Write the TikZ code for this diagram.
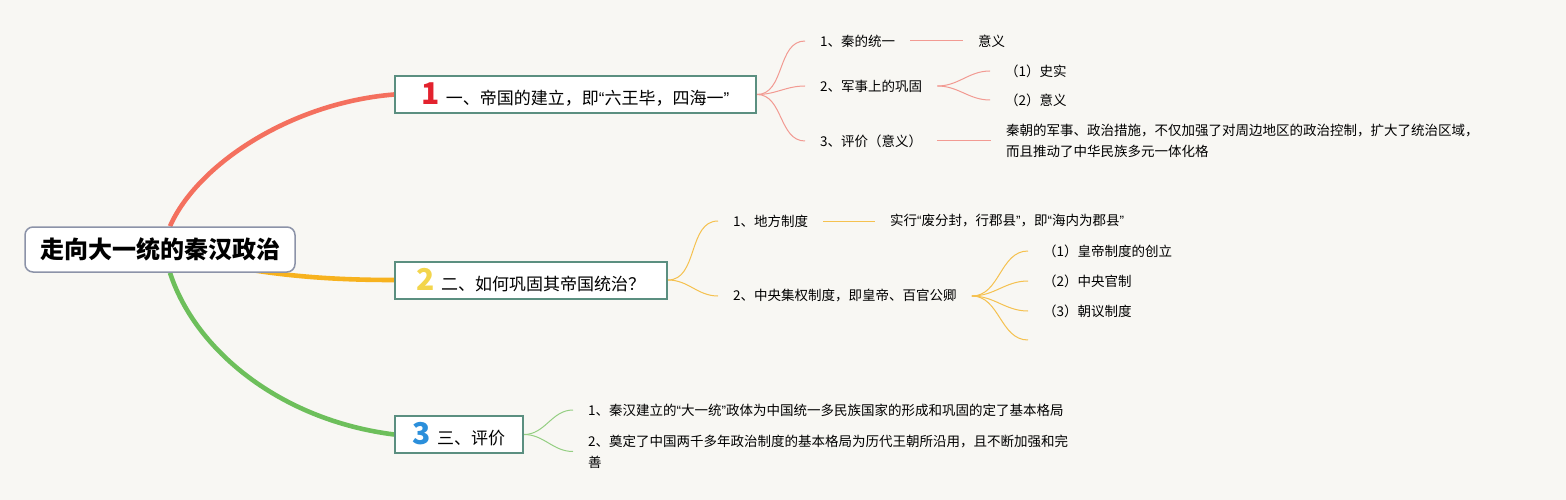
\documentclass[tikz,border=0pt]{standalone}
\usepackage{fontspec}
\setmainfont{Noto Sans CJK SC}
\newfontfamily\latino{Liberation Sans}
\usetikzlibrary{backgrounds}

\newcommand\numero[2]{{\color{#1}\fontsize{30}{30}\selectfont\bfseries #2}\hspace{6pt}}
\newcommand\virg[1]{{\latino “}#1{\latino ”}}

\tikzset{
  radice/.style={draw=colRadice, fill=white, line width=1.5pt, rounded corners=8pt,
    minimum width=270pt, minimum height=45pt, font=\fontsize{24}{28}\selectfont\bfseries},
  ramo/.style={draw=colBordo, fill=white, line width=2pt, minimum height=37pt,
    inner xsep=0pt, inner ysep=0pt, font=\fontsize{17}{20}\selectfont},
  foglia/.style={anchor=west, inner xsep=15pt, inner ysep=2pt, align=left,
    font=\fontsize{13.5}{21}\selectfont},
  grosso/.style={line width=4.6pt},
  sottile/.style={line width=1pt},
}

\begin{document}
\begin{tikzpicture}[x=1pt, y=-1pt]

% Colori
\definecolor{colSfondo}{HTML}{F8F7F3}
\definecolor{colRadice}{HTML}{8C93A8}
\definecolor{colBordo}{HTML}{5B8F80}
\definecolor{colRossoG}{HTML}{F4705E}
\definecolor{colRossoS}{HTML}{F29A92}
\definecolor{colArancioG}{HTML}{F7B21E}
\definecolor{colArancioS}{HTML}{F5C14F}
\definecolor{colVerdeG}{HTML}{6DBF5B}
\definecolor{colVerdeS}{HTML}{95CF83}
\definecolor{numRosso}{HTML}{E3222E}
\definecolor{numGiallo}{HTML}{F3D54C}
\definecolor{numBlu}{HTML}{2B8FDB}

\useasboundingbox (0,0) rectangle (1566,500);

% Nodo centrale
\node[radice] (radice) at (160,249.5) {走向大一统的秦汉政治};

% Rami principali
\node[ramo, minimum width=361pt] (r1) at (575.5,94.5)
  {\numero{numRosso}{1}一、帝国的建立，即\virg{六王毕，四海一}};
\node[ramo, minimum width=272pt] (r2) at (531,280)
  {\numero{numGiallo}{2}二、如何巩固其帝国统治？};
\node[ramo, minimum width=128pt] (r3) at (459,434.5)
  {\numero{numBlu}{3}三、评价};

% Ramo 1
\node[foglia] (q1) at (805,41) {1、秦的统一};
\node[foglia] (q2) at (805,86) {2、军事上的巩固};
\node[foglia] (q3) at (805,141) {3、评价（意义）};
\node[foglia] (q1a) at (963,41) {意义};
\node[foglia] (q2a) at (990,71) {（1）史实};
\node[foglia] (q2b) at (990,100) {（2）意义};
\node[foglia] (q3a) at (991,141)
  {秦朝的军事、政治措施，不仅加强了对周边地区的政治控制，扩大了统治区域，\\而且推动了中华民族多元一体化格};

% Ramo 2
\node[foglia] (d1) at (718,221) {1、地方制度};
\node[foglia] (d1a) at (875,221) {实行\virg{废分封，行郡县}，即\virg{海内为郡县}};
\node[foglia] (d2) at (718,296) {2、中央集权制度，即皇帝、百官公卿};
\node[foglia] (d2a) at (1028,251) {（1）皇帝制度的创立};
\node[foglia] (d2b) at (1028,281) {（2）中央官制};
\node[foglia] (d2c) at (1028,311) {（3）朝议制度};
\coordinate (d2d) at (1028,340);

% Ramo 3
\node[foglia] (p1) at (573,410)
  {1、秦汉建立的\virg{大一统}政体为中国统一多民族国家的形成和巩固的定了基本格局};
\node[foglia] (p2) at (573,451.5)
  {2、奠定了中国两千多年政治制度的基本格局为历代王朝所沿用，且不断加强和完\\善};

% Collegamenti
\begin{scope}[on background layer]
\fill[colSfondo] (0,0) rectangle (1566,500);

\draw[grosso, colRossoG] ([xshift=10pt]radice.north) .. controls (197,165) and (290,103) .. (r1.west);
\draw[grosso, colArancioG] (radice.center) .. controls (250,276) and (330,280) .. (r2.west);
\draw[grosso, colVerdeG] ([xshift=10pt]radice.south) .. controls (195,350) and (280,420) .. (r3.west);

\draw[sottile, colRossoS] (r1.east) to[out=0,in=180] (q1.west);
\draw[sottile, colRossoS] (r1.east) to[out=0,in=180] (q2.west);
\draw[sottile, colRossoS] (r1.east) to[out=0,in=180] (q3.west);
\draw[sottile, colRossoS] (q1.east) -- (q1a.west);
\draw[sottile, colRossoS] (q2.east) to[out=0,in=180] (q2a.west);
\draw[sottile, colRossoS] (q2.east) to[out=0,in=180] (q2b.west);
\draw[sottile, colRossoS] (q3.east) -- (q3a.west);

\draw[sottile, colArancioS] (r2.east) to[out=0,in=180] (d1.west);
\draw[sottile, colArancioS] (r2.east) to[out=0,in=180] (d2.west);
\draw[sottile, colArancioS] (d1.east) -- (d1a.west);
\draw[sottile, colArancioS] (d2.east) to[out=0,in=180] (d2a.west);
\draw[sottile, colArancioS] (d2.east) to[out=0,in=180] (d2b.west);
\draw[sottile, colArancioS] (d2.east) to[out=0,in=180] (d2c.west);
\draw[sottile, colArancioS] (d2.east) to[out=0,in=180] (d2d);

\draw[sottile, colVerdeS] (r3.east) to[out=0,in=180] (p1.west);
\draw[sottile, colVerdeS] (r3.east) to[out=0,in=180] (p2.west);
\end{scope}

\end{tikzpicture}
\end{document}
